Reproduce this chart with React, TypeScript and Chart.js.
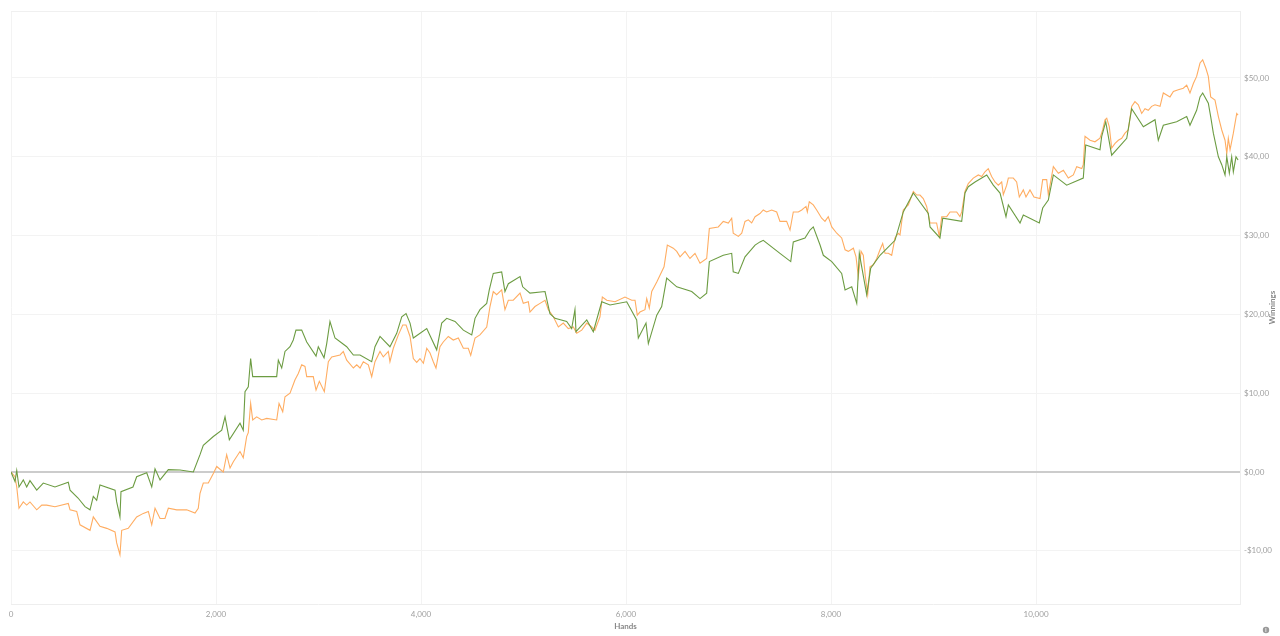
import React, { useEffect, useRef } from "react";
import { Chart, registerables } from "chart.js";

Chart.register(...registerables);

const greenHands = [0, 39, 56, 78, 120, 153, 185, 251, 315, 429, 559, 576, 654, 722, 771, 803, 836, 868, 1015, 1031, 1063, 1073, 1190, 1226, 1324, 1373, 1405, 1454, 1535, 1649, 1779, 1844, 1876, 1974, 2056, 2088, 2130, 2234, 2266, 2283, 2315, 2338, 2358, 2592, 2608, 2641, 2673, 2722, 2754, 2780, 2836, 2885, 2976, 2998, 3054, 3080, 3112, 3161, 3275, 3340, 3405, 3519, 3551, 3600, 3697, 3763, 3812, 3854, 3893, 3925, 4056, 4153, 4202, 4251, 4332, 4413, 4495, 4527, 4575, 4641, 4666, 4705, 4787, 4819, 4852, 4966, 4992, 5063, 5210, 5258, 5307, 5421, 5470, 5502, 5512, 5617, 5681, 5763, 5844, 6007, 6104, 6120, 6195, 6218, 6300, 6348, 6397, 6495, 6641, 6722, 6787, 6813, 6949, 7031, 7046, 7096, 7161, 7259, 7307, 7339, 7502, 7607, 7632, 7746, 7795, 7827, 7893, 7925, 8007, 8104, 8137, 8202, 8251, 8276, 8348, 8387, 8478, 8624, 8705, 8803, 8949, 8966, 9063, 9090, 9275, 9307, 9339, 9405, 9519, 9583, 9649, 9707, 9730, 9844, 9876, 10032, 10065, 10120, 10169, 10299, 10461, 10485, 10624, 10641, 10680, 10738, 10885, 10933, 11047, 11161, 11193, 11242, 11372, 11470, 11502, 11567, 11600, 11626, 11681, 11704, 11730, 11779, 11812, 11844, 11861, 11886, 11909, 11925, 11951, 11971];
const greenValues = [0, -1.2, 0.2, -1.9, -1.0, -1.9, -1.1, -2.3, -1.4, -1.9, -1.3, -2.3, -3.3, -4.4, -4.8, -3.1, -3.6, -1.65, -2.3, -3.8, -5.7, -2.5, -1.9, -0.6, -0.1, -1.9, 0.4, -1.0, 0.3, 0.25, 0, 2.2, 3.4, 4.5, 5.3, 7.0, 4.1, 6.2, 5.3, 10.2, 10.8, 14.4, 12.1, 12.1, 14.2, 13.2, 15.3, 15.9, 16.75, 18.0, 18.0, 16.5, 14.7, 15.9, 14.5, 16.3, 19.1, 17.0, 15.9, 14.85, 14.85, 14.0, 15.9, 17.2, 15.9, 17.6, 19.7, 20.1, 18.9, 17.0, 18.2, 15.5, 18.9, 19.5, 19.1, 18.0, 17.4, 19.5, 20.6, 21.4, 23.1, 25.2, 25.4, 22.9, 23.9, 24.8, 23.5, 22.7, 22.9, 20.1, 19.5, 19.1, 18.2, 20.6, 17.8, 19.3, 17.8, 21.6, 21.2, 21.6, 19.3, 17.0, 18.9, 16.3, 19.9, 21.0, 24.6, 23.5, 22.9, 22.0, 22.7, 26.7, 27.5, 27.75, 25.4, 25.2, 27.3, 28.8, 29.2, 29.4, 27.75, 26.7, 29.2, 29.7, 30.7, 31.1, 28.8, 27.5, 26.7, 25.2, 23.1, 23.5, 21.4, 27.75, 22.5, 25.85, 27.5, 29.4, 33.0, 35.4, 32.8, 31.1, 29.7, 32.2, 31.8, 35.4, 36.2, 36.8, 37.7, 36.4, 35.4, 32.4, 33.9, 31.6, 32.6, 31.6, 33.5, 34.5, 37.7, 36.4, 37.3, 41.5, 40.9, 42.6, 44.45, 40.2, 42.35, 46.1, 43.8, 44.7, 42.1, 44.0, 44.45, 45.1, 44.0, 45.9, 47.6, 48.1, 46.8, 45.1, 43.0, 40.0, 39.0, 37.7, 40.0, 37.9, 40.0, 38.1, 40.0, 39.6];

const orangeHands = [0, 39, 56, 78, 120, 153, 185, 251, 300, 348, 429, 559, 576, 641, 673, 771, 803, 868, 934, 1015, 1031, 1063, 1080, 1144, 1226, 1291, 1340, 1373, 1405, 1454, 1502, 1535, 1617, 1714, 1795, 1827, 1844, 1876, 1925, 1974, 2007, 2071, 2104, 2137, 2169, 2234, 2266, 2299, 2315, 2338, 2358, 2397, 2446, 2495, 2592, 2615, 2651, 2673, 2722, 2771, 2803, 2836, 2868, 2885, 2949, 2976, 3008, 3057, 3096, 3129, 3210, 3242, 3275, 3340, 3373, 3405, 3437, 3486, 3519, 3551, 3600, 3632, 3681, 3697, 3730, 3779, 3822, 3854, 3893, 3925, 3958, 3990, 4023, 4056, 4088, 4120, 4146, 4185, 4217, 4266, 4315, 4364, 4413, 4461, 4485, 4527, 4575, 4641, 4673, 4705, 4738, 4787, 4819, 4852, 4900, 4966, 4998, 5047, 5063, 5112, 5161, 5210, 5242, 5291, 5340, 5388, 5437, 5486, 5519, 5568, 5617, 5665, 5697, 5746, 5769, 5812, 5893, 5990, 6056, 6088, 6110, 6136, 6185, 6202, 6227, 6251, 6300, 6348, 6371, 6403, 6461, 6495, 6527, 6576, 6624, 6673, 6722, 6787, 6813, 6900, 6949, 6998, 7031, 7046, 7096, 7129, 7161, 7193, 7226, 7259, 7307, 7339, 7372, 7421, 7470, 7502, 7567, 7600, 7632, 7681, 7714, 7756, 7769, 7788, 7827, 7860, 7909, 7941, 7973, 8007, 8056, 8104, 8137, 8169, 8218, 8244, 8266, 8293, 8315, 8335, 8358, 8380, 8413, 8446, 8478, 8504, 8527, 8559, 8592, 8624, 8656, 8673, 8705, 8754, 8803, 8836, 8868, 8900, 8933, 8966, 8998, 9030, 9056, 9080, 9129, 9161, 9226, 9258, 9275, 9307, 9339, 9388, 9437, 9470, 9502, 9534, 9567, 9600, 9632, 9665, 9681, 9714, 9730, 9778, 9811, 9837, 9876, 9902, 9941, 9980, 10039, 10065, 10104, 10120, 10169, 10218, 10267, 10315, 10364, 10397, 10446, 10461, 10478, 10527, 10575, 10624, 10650, 10673, 10690, 10715, 10738, 10771, 10803, 10836, 10868, 10900, 10933, 10965, 10998, 11031, 11063, 11095, 11128, 11161, 11210, 11242, 11307, 11340, 11388, 11437, 11470, 11502, 11535, 11567, 11600, 11626, 11658, 11681, 11704, 11746, 11779, 11812, 11844, 11861, 11876, 11893, 11925, 11958, 11971];
const orangeValues = [0, -0.6, -1.9, -4.6, -3.8, -4.2, -3.8, -4.8, -4.2, -4.2, -4.4, -4.0, -4.8, -5.0, -6.7, -7.4, -5.7, -6.9, -7.15, -7.6, -9.0, -10.5, -7.4, -7.15, -5.7, -5.25, -5.0, -6.7, -4.6, -5.9, -5.9, -4.6, -4.8, -4.8, -5.2, -4.6, -2.7, -1.4, -1.4, -0.2, 0.7, 0, 2.2, 0.5, 1.3, 2.6, 1.8, 4.5, 5.0, 8.7, 6.6, 7.0, 6.6, 6.8, 6.6, 8.7, 7.65, 9.55, 10.0, 11.7, 12.5, 13.6, 13.4, 12.1, 12.1, 10.4, 11.5, 10.2, 14.0, 14.6, 14.85, 15.3, 14.2, 13.2, 13.6, 13.2, 14.0, 13.6, 12.1, 14.0, 15.3, 14.6, 15.3, 14.0, 15.7, 17.4, 18.65, 18.65, 17.2, 14.4, 13.9, 14.4, 13.8, 15.7, 15.1, 14.0, 13.2, 15.9, 16.5, 17.2, 16.75, 17.0, 15.7, 15.7, 14.8, 17.0, 17.4, 18.4, 21.0, 22.9, 22.5, 23.1, 20.6, 21.8, 21.8, 22.7, 21.4, 21.6, 20.3, 21.0, 21.4, 21.8, 20.6, 19.7, 18.4, 18.9, 18.2, 18.4, 17.6, 18.0, 18.9, 18.4, 18.0, 19.7, 22.2, 21.8, 21.6, 22.2, 21.8, 21.8, 19.9, 20.3, 20.6, 22.0, 20.8, 22.9, 24.1, 25.4, 26.05, 28.8, 28.4, 28.0, 27.3, 28.0, 27.1, 27.75, 26.5, 27.1, 30.9, 31.1, 31.8, 31.6, 32.2, 30.3, 29.9, 30.3, 31.8, 32.0, 31.6, 32.4, 32.8, 33.25, 33.0, 33.25, 33.0, 31.8, 31.8, 30.7, 33.0, 33.0, 33.25, 33.7, 33.0, 34.3, 33.9, 33.25, 32.2, 31.8, 32.4, 31.1, 30.3, 29.7, 28.2, 28.0, 28.4, 27.3, 24.8, 28.0, 27.5, 24.8, 22.5, 26.05, 26.3, 27.1, 28.2, 29.0, 27.75, 27.75, 27.5, 29.7, 30.3, 30.1, 33.25, 33.9, 35.6, 35.15, 35.15, 34.7, 33.7, 31.6, 31.6, 31.6, 29.9, 32.4, 32.4, 33.0, 33.0, 32.4, 33.0, 35.6, 36.6, 37.3, 37.7, 37.5, 38.1, 38.5, 37.5, 36.8, 36.4, 36.8, 35.2, 36.4, 37.3, 37.3, 36.8, 34.9, 35.8, 34.9, 35.8, 34.9, 34.7, 37.1, 37.1, 35.2, 38.75, 37.9, 38.3, 37.3, 37.7, 38.75, 38.5, 39.0, 42.6, 42.1, 41.9, 42.35, 43.4, 44.7, 44.9, 43.8, 41.1, 41.7, 42.1, 42.35, 43.0, 43.4, 46.4, 47.0, 46.6, 45.5, 46.1, 45.9, 46.4, 46.6, 46.4, 48.1, 47.6, 48.3, 48.5, 48.7, 49.1, 48.1, 49.3, 50.2, 51.9, 52.3, 51.2, 50.2, 47.6, 47.2, 45.1, 43.4, 42.1, 40.4, 42.35, 40.9, 43.0, 45.5, 45.3];

const xTickValues = [0, 2000, 4000, 6000, 8000, 10000];
const yTickValues = [-10, 0, 10, 20, 30, 40, 50];
const xMax = 11990;
const yMin = -16.75;
const yMax = 58.5;

const fmtMoney = (v: number) => {
  const s = "$" + Math.abs(v).toFixed(2).replace(".", ",");
  return v < 0 ? "-" + s : s;
};

const overlay = {
  id: "overlay",
  beforeDatasetsDraw(chart: any) {
    const { ctx, chartArea } = chart;
    ctx.save();
    ctx.strokeStyle = "#f0f0f0";
    ctx.lineWidth = 1;
    ctx.beginPath();
    ctx.moveTo(chartArea.left, chartArea.top + 0.5);
    ctx.lineTo(chartArea.right, chartArea.top + 0.5);
    ctx.stroke();
    ctx.restore();
  },
  afterDraw(chart: any) {
    const { ctx, chartArea } = chart;
    ctx.save();
    ctx.fillStyle = "#888";
    ctx.font = "bold 8px Lato";
    ctx.textAlign = "center";
    ctx.textBaseline = "middle";
    ctx.fillText("Hands", (chartArea.left + chartArea.right) / 2, 626);
    ctx.translate(1272, (chartArea.top + chartArea.bottom) / 2);
    ctx.rotate(-Math.PI / 2);
    ctx.fillText("Winnings", 0, 0);
    ctx.restore();
    ctx.save();
    ctx.fillStyle = "#999";
    ctx.beginPath();
    ctx.arc(1266, 630, 3.2, 0, Math.PI * 2);
    ctx.fill();
    ctx.fillStyle = "#fff";
    ctx.font = "bold 5px Lato";
    ctx.textAlign = "center";
    ctx.textBaseline = "middle";
    ctx.fillText("i", 1266, 630.3);
    ctx.restore();
  },
};

export default function App() {
  const ref = useRef<HTMLCanvasElement | null>(null);
  useEffect(() => {
    if (!ref.current) return;
    const green = greenHands.map((h, i) => ({ x: h, y: greenValues[i] }));
    const orange = orangeHands.map((h, i) => ({ x: h, y: orangeValues[i] }));
    const chart = new Chart(ref.current, {
      type: "line",
      data: {
        datasets: [
          {
            label: "Winnings",
            data: green,
            borderColor: "#6c9c42",
            borderWidth: 1.1,
            pointRadius: 0,
            tension: 0,
          },
          {
            label: "Showdown",
            data: orange,
            borderColor: "#ffad62",
            borderWidth: 1.1,
            pointRadius: 0,
            tension: 0,
          },
        ],
      },
      options: {
        animation: false,
        responsive: false,
        layout: { padding: { left: 11, top: 11, right: 0, bottom: 0 } },
        plugins: { legend: { display: false }, tooltip: { enabled: false } },
        scales: {
          x: {
            type: "linear",
            min: 0,
            max: xMax,
            afterBuildTicks: (s: any) => {
              s.ticks = xTickValues.map((v) => ({ value: v }));
            },
            afterFit: (s: any) => {
              s.height = 32;
            },
            ticks: {
              autoSkip: false,
              color: "#a0a0a0",
              font: { family: "Lato", size: 8 },
              padding: 6,
              maxRotation: 0,
              callback: (v: any) => Number(v).toLocaleString("en-US"),
            },
            grid: { color: "#f3f3f3", drawTicks: false },
            border: { color: "#eeeeee" },
          },
          y: {
            type: "linear",
            position: "right",
            min: yMin,
            max: yMax,
            afterBuildTicks: (s: any) => {
              s.ticks = yTickValues.map((v) => ({ value: v }));
            },
            afterFit: (s: any) => {
              s.width = 40;
            },
            ticks: {
              autoSkip: false,
              color: "#a0a0a0",
              font: { family: "Lato", size: 8 },
              padding: 4,
              callback: (v: any) => fmtMoney(Number(v)),
            },
            grid: {
              drawTicks: false,
              color: (c: any) => (c.tick && c.tick.value === 0 ? "#cccccc" : "#f3f3f3"),
              lineWidth: (c: any) => (c.tick && c.tick.value === 0 ? 2 : 1),
            },
            border: { color: "#eeeeee" },
          },
        },
      },
      plugins: [overlay],
    });
    return () => chart.destroy();
  }, []);
  return (
    <div style={{ position: "absolute", left: 0, top: 0, width: 1280, height: 636, background: "#fff" }}>
      <canvas ref={ref} width={1280} height={636} style={{ width: 1280, height: 636, display: "block" }} />
    </div>
  );
}
